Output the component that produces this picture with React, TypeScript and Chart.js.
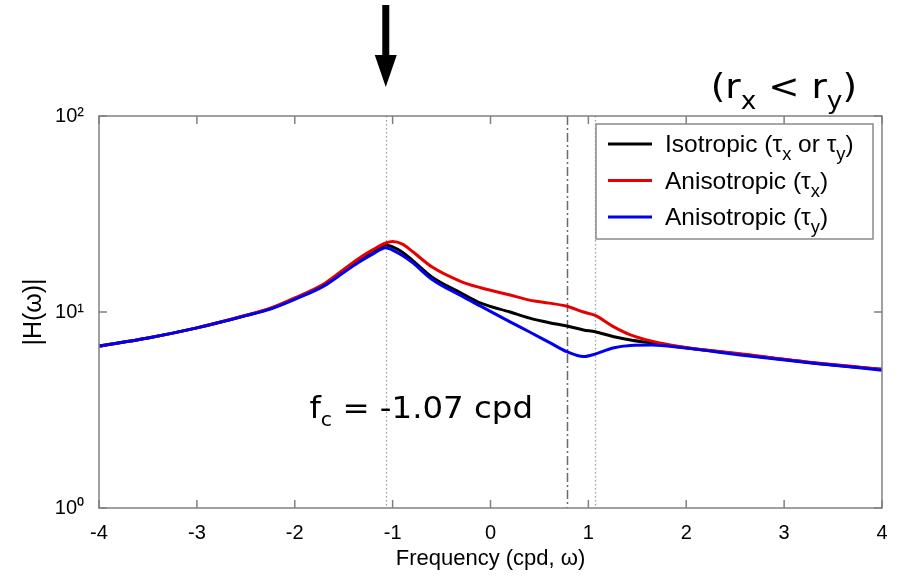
import React, { useEffect, useRef } from "react";
import { Chart, registerables } from "chart.js";

Chart.register(...registerables);

// ---------- data ----------
const freqs = [-4, -3.5, -3, -2.5, -2.25, -2, -1.7, -1.5, -1.35, -1.2, -1.07, -1.0, -0.9, -0.8, -0.6, -0.3, -0.1, 0.2, 0.4, 0.6, 0.78, 0.95, 1.07, 1.25, 1.43, 1.65, 1.95, 2.6, 3.3, 4];
const isotropic = [6.7, 7.37, 8.3, 9.6, 10.4, 11.7, 13.8, 16.2, 18.3, 20.2, 22.0, 21.5, 20.2, 18.4, 15.1, 12.5, 11.1, 10.0, 9.3, 8.82, 8.48, 8.1, 7.93, 7.5, 7.2, 6.95, 6.61, 6.05, 5.5, 5.1];
const anisoX = [6.7, 7.37, 8.3, 9.62, 10.45, 11.8, 13.95, 16.5, 18.7, 20.8, 22.5, 22.9, 22.2, 20.4, 17.0, 14.3, 13.3, 12.2, 11.5, 11.1, 10.7, 10.0, 9.6, 8.45, 7.65, 7.1, 6.65, 6.08, 5.52, 5.1];
const anisoY = [6.7, 7.37, 8.3, 9.58, 10.35, 11.6, 13.6, 15.9, 17.9, 19.8, 21.3, 20.7, 19.4, 17.9, 14.7, 12.1, 10.7, 8.91, 7.91, 7.0, 6.27, 5.92, 6.1, 6.55, 6.75, 6.78, 6.58, 6.0, 5.48, 5.05];

const xTicks = [-4, -3, -2, -1, 0, 1, 2, 3, 4];
const yTicks = [1, 10, 100];
const yTickLabels = ["10⁰", "10¹", "10²"];

const cutoffFreq = -1.07;
const mirrorFreq = 1.07;
const dashFreq = 0.78;

const seriesLabels = ["Isotropic (τ_x or τ_y)", "Anisotropic (τ_x)", "Anisotropic (τ_y)"];
const seriesColors = ["#000000", "#e60000", "#0000f0"];
const annotationText = "f_c = -1.07 cpd";
const annotationFreq = -1.85;
const annotationValue = 2.88;
const cornerText = "(r_x < r_y)";

// ---------- helpers ----------
type Part = { t: string; sub: boolean };
function parseRich(s: string): Part[] {
  const parts: Part[] = [];
  let buf = "";
  for (let i = 0; i < s.length; i++) {
    if (s[i] === "_" && i + 1 < s.length) {
      if (buf) parts.push({ t: buf, sub: false });
      buf = "";
      parts.push({ t: s[i + 1], sub: true });
      i++;
    } else buf += s[i];
  }
  if (buf) parts.push({ t: buf, sub: false });
  return parts;
}

function richWidth(ctx: CanvasRenderingContext2D, s: string, family: string, size: number, subSize: number) {
  let w = 0;
  for (const p of parseRich(s)) {
    ctx.font = `${p.sub ? subSize : size}px ${family}`;
    w += ctx.measureText(p.t).width;
  }
  return w;
}

function drawRich(ctx: CanvasRenderingContext2D, s: string, x: number, y: number, family: string, size: number, subSize: number, subDy: number, sx = 1) {
  ctx.save();
  ctx.translate(x, y);
  ctx.scale(sx, 1);
  ctx.textBaseline = "alphabetic";
  ctx.textAlign = "left";
  ctx.fillStyle = "#000";
  let cx = 0;
  for (const p of parseRich(s)) {
    ctx.font = `${p.sub ? subSize : size}px ${family}`;
    ctx.fillText(p.t, cx, p.sub ? subDy : 0);
    cx += ctx.measureText(p.t).width;
  }
  ctx.restore();
}

const overlay = {
  id: "overlay",
  beforeDatasetsDraw(chart: any) {
    const { ctx, chartArea } = chart;
    const xs = chart.scales.x;
    ctx.save();
    ctx.strokeStyle = "#9a9a9a";
    ctx.lineWidth = 1.2;
    ctx.setLineDash([1.5, 2.5]);
    for (const f of [cutoffFreq, mirrorFreq]) {
      const px = Math.round(xs.getPixelForValue(f)) + 0.5;
      ctx.beginPath();
      ctx.moveTo(px, chartArea.top);
      ctx.lineTo(px, chartArea.bottom);
      ctx.stroke();
    }
    ctx.strokeStyle = "#6a6a6a";
    ctx.lineWidth = 1.5;
    ctx.setLineDash([9, 3, 2, 3]);
    const dx = Math.round(xs.getPixelForValue(dashFreq)) + 0.5;
    ctx.beginPath();
    ctx.moveTo(dx, chartArea.top);
    ctx.lineTo(dx, chartArea.bottom);
    ctx.stroke();
    ctx.restore();
  },
  afterDraw(chart: any) {
    const { ctx, chartArea } = chart;
    const xs = chart.scales.x;
    const ys = chart.scales.y;
    const { left, right, top, bottom } = chartArea;
    ctx.save();
    // box
    ctx.strokeStyle = "#808080";
    ctx.lineWidth = 1.5;
    ctx.setLineDash([]);
    ctx.strokeRect(left, top, right - left, bottom - top);
    // inward ticks
    const tl = 8;
    ctx.beginPath();
    for (const v of xTicks) {
      const px = xs.getPixelForValue(v);
      ctx.moveTo(px, bottom);
      ctx.lineTo(px, bottom - tl);
      ctx.moveTo(px, top);
      ctx.lineTo(px, top + tl);
    }
    for (const v of yTicks) {
      const py = ys.getPixelForValue(v);
      ctx.moveTo(left, py);
      ctx.lineTo(left + tl, py);
      ctx.moveTo(right, py);
      ctx.lineTo(right - tl, py);
    }
    ctx.stroke();

    // legend
    const lx = right - 286;
    const ly = top + 8;
    const lw = 277;
    const lh = 115;
    ctx.fillStyle = "#fff";
    ctx.fillRect(lx, ly, lw, lh);
    ctx.strokeStyle = "#8a8a8a";
    ctx.lineWidth = 1.5;
    ctx.strokeRect(lx, ly, lw, lh);
    seriesLabels.forEach((lab, i) => {
      const yy = ly + 20 + i * 36.5;
      ctx.strokeStyle = seriesColors[i];
      ctx.lineWidth = 3;
      ctx.beginPath();
      ctx.moveTo(lx + 12, yy);
      ctx.lineTo(lx + 56, yy);
      ctx.stroke();
      drawRich(ctx, lab, lx + 69, yy + 8, "'Liberation Sans', Arial, sans-serif", 24, 18, 8, 1.02);
    });

    // annotation f_c
    const ax = xs.getPixelForValue(annotationFreq);
    const ay = ys.getPixelForValue(annotationValue);
    drawRich(ctx, annotationText, ax, ay, "'DejaVu Sans', Verdana, sans-serif", 30, 19, 8, 1.08);

    // corner text
    const csx = 1.1;
    const cw = richWidth(ctx, cornerText, "'DejaVu Sans', Verdana, sans-serif", 34, 24) * csx;
    drawRich(ctx, cornerText, right - 25 - cw, top - 18, "'DejaVu Sans', Verdana, sans-serif", 34, 24, 11, csx);

    // arrow above cutoff
    const arx = xs.getPixelForValue(cutoffFreq);
    ctx.fillStyle = "#000";
    ctx.fillRect(arx - 3.5, 5, 7, 52);
    ctx.beginPath();
    ctx.moveTo(arx - 11, 55);
    ctx.lineTo(arx + 11, 55);
    ctx.lineTo(arx, 87);
    ctx.closePath();
    ctx.fill();
    ctx.restore();
  },
};

export default function App() {
  const ref = useRef<HTMLCanvasElement | null>(null);
  useEffect(() => {
    if (!ref.current) return;
    const mk = (vals: number[]) => freqs.map((f, i) => ({ x: f, y: vals[i] }));
    const tickFont = { family: "'Liberation Sans', Arial, sans-serif", size: 20 };
    const chart = new Chart(ref.current, {
      type: "line",
      data: {
        datasets: [
          { label: seriesLabels[0], data: mk(isotropic), borderColor: seriesColors[0], borderWidth: 3, pointRadius: 0, cubicInterpolationMode: "monotone", order: 3 },
          { label: seriesLabels[1], data: mk(anisoX), borderColor: seriesColors[1], borderWidth: 3, pointRadius: 0, cubicInterpolationMode: "monotone", order: 2 },
          { label: seriesLabels[2], data: mk(anisoY), borderColor: seriesColors[2], borderWidth: 3, pointRadius: 0, cubicInterpolationMode: "monotone", order: 1 },
        ],
      } as any,
      options: {
        responsive: false,
        animation: false,
        events: [],
        layout: { padding: { top: 116, right: 19, bottom: 0, left: 0 } },
        plugins: { legend: { display: false }, tooltip: { enabled: false } },
        scales: {
          x: {
            type: "linear",
            min: -4,
            max: 4,
            afterBuildTicks: (s: any) => {
              s.ticks = xTicks.map((v) => ({ value: v }));
            },
            ticks: { font: tickFont, color: "#000", padding: 5, maxRotation: 0, autoSkip: false, callback: (v: any) => String(v) },
            grid: { display: false },
            border: { display: false },
            title: { display: true, text: "Frequency (cpd, ω)", color: "#000", font: { family: "'Liberation Sans', Arial, sans-serif", size: 22 }, padding: { top: 0, bottom: 5 } },
            afterFit: (s: any) => {
              s.height = 69;
            },
          },
          y: {
            type: "logarithmic",
            min: 1,
            max: 100,
            afterBuildTicks: (s: any) => {
              s.ticks = yTicks.map((v) => ({ value: v }));
            },
            ticks: {
              font: tickFont,
              color: "#000",
              padding: 7,
              autoSkip: false,
              callback: (v: any) => {
                const i = yTicks.indexOf(Number(v));
                return i >= 0 ? yTickLabels[i] : "";
              },
            },
            grid: { display: false },
            border: { display: false },
            title: { display: true, text: "|H(ω)|", color: "#000", font: { family: "'Liberation Sans', Arial, sans-serif", size: 25 }, padding: { top: 19, bottom: 0 } },
            afterFit: (s: any) => {
              s.width = 99;
            },
          },
        },
      } as any,
      plugins: [overlay],
    });
    return () => chart.destroy();
  }, []);
  return (
    <div style={{ position: "absolute", left: 0, top: 0, width: 901, height: 577, background: "#fff" }}>
      <canvas ref={ref} width={901} height={577} style={{ display: "block", width: 901, height: 577 }} />
    </div>
  );
}
